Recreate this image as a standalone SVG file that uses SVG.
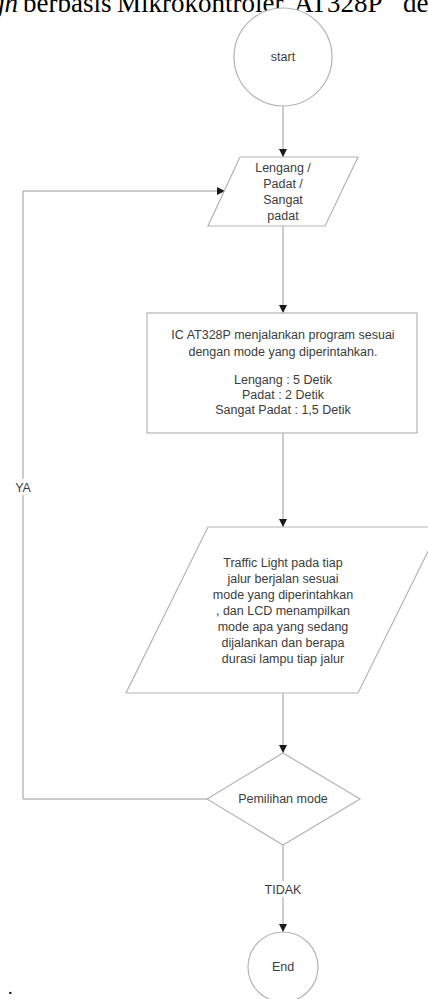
<svg xmlns="http://www.w3.org/2000/svg" width="428" height="999" viewBox="0 0 428 999">
<defs>
<style>
.shape{fill:#fff;stroke:#b4b4b4;stroke-width:1.2}
.conn{fill:none;stroke:#9a9a9a;stroke-width:1}
.t{font-family:"Liberation Sans",Arial,sans-serif;font-size:12.5px;fill:#3c3c3c;text-anchor:middle}
.lbl{font-family:"Liberation Sans",Arial,sans-serif;font-size:12.5px;fill:#3c3c3c;text-anchor:middle}
.cap{font-family:"Liberation Serif","Times New Roman",serif;font-size:27px;fill:#000}
</style>
<marker id="arr" viewBox="0 0 8 8" refX="8" refY="4" markerWidth="8" markerHeight="8" markerUnits="userSpaceOnUse" orient="auto">
<path d="M0,0 L8,4 L0,8 Z" fill="#1a1a1a"/>
</marker>
</defs>
<rect width="428" height="999" fill="#fff"/>
<text class="cap" y="12"><tspan x="-9" font-style="italic">gn</tspan><tspan x="23">berbasis</tspan><tspan x="117">Mikrokontroler</tspan><tspan x="294">AT328P</tspan><tspan x="403">de</tspan></text>

<g id="connectors">
<line class="conn" x1="283" y1="106" x2="283" y2="157" marker-end="url(#arr)"/>
<line class="conn" x1="283" y1="226" x2="283" y2="313" marker-end="url(#arr)"/>
<line class="conn" x1="283" y1="433" x2="283" y2="527" marker-end="url(#arr)"/>
<line class="conn" x1="283" y1="693" x2="283" y2="753" marker-end="url(#arr)"/>
<line class="conn" x1="283" y1="845" x2="283" y2="932" marker-end="url(#arr)"/>
<polyline class="conn" points="207,799 23,799 23,191 225,191" marker-end="url(#arr)"/>
<rect x="11" y="479" width="24" height="16" fill="#fff"/>
<text class="lbl" x="23" y="492">YA</text>
<rect x="263" y="881" width="40" height="16" fill="#fff"/>
<text class="lbl" x="283" y="894">TIDAK</text>
</g>

<g id="start">
<circle class="shape" cx="283" cy="57" r="49"/>
<text class="t" x="283" y="61">start</text>
</g>

<g id="input-mode">
<polygon class="shape" points="240,157 358,157 325,226 208,226"/>
<text class="t" x="283" y="172">Lengang /</text>
<text class="t" x="283" y="188">Padat /</text>
<text class="t" x="283" y="204">Sangat</text>
<text class="t" x="283" y="220">padat</text>
</g>

<g id="process">
<rect class="shape" x="147" y="313" width="270" height="120"/>
<text class="t" x="283" y="339">IC AT328P menjalankan program sesuai</text>
<text class="t" x="283" y="356">dengan mode yang diperintahkan.</text>
<text class="t" x="283" y="384">Lengang : 5 Detik</text>
<text class="t" x="283" y="399">Padat : 2 Detik</text>
<text class="t" x="283" y="414">Sangat Padat : 1,5 Detik</text>
</g>

<g id="output">
<polygon class="shape" points="208,527 440,527 358,693 126,693"/>
<text class="t" x="283" y="567">Traffic Light pada tiap</text>
<text class="t" x="283" y="583">jalur berjalan sesuai</text>
<text class="t" x="283" y="599">mode yang diperintahkan</text>
<text class="t" x="283" y="615">, dan LCD menampilkan</text>
<text class="t" x="283" y="631">mode apa yang sedang</text>
<text class="t" x="283" y="647">dijalankan dan berapa</text>
<text class="t" x="283" y="663">durasi lampu tiap jalur</text>
</g>

<g id="decision">
<polygon class="shape" points="283,753 360,799 283,845 207,799"/>
<text class="t" x="283" y="803">Pemilihan mode</text>
</g>

<g id="end">
<circle class="shape" cx="283" cy="967" r="35"/>
<text class="t" x="283" y="971">End</text>
</g>

<text class="cap" x="8" y="994" style="font-size:18px">.</text>
</svg>
